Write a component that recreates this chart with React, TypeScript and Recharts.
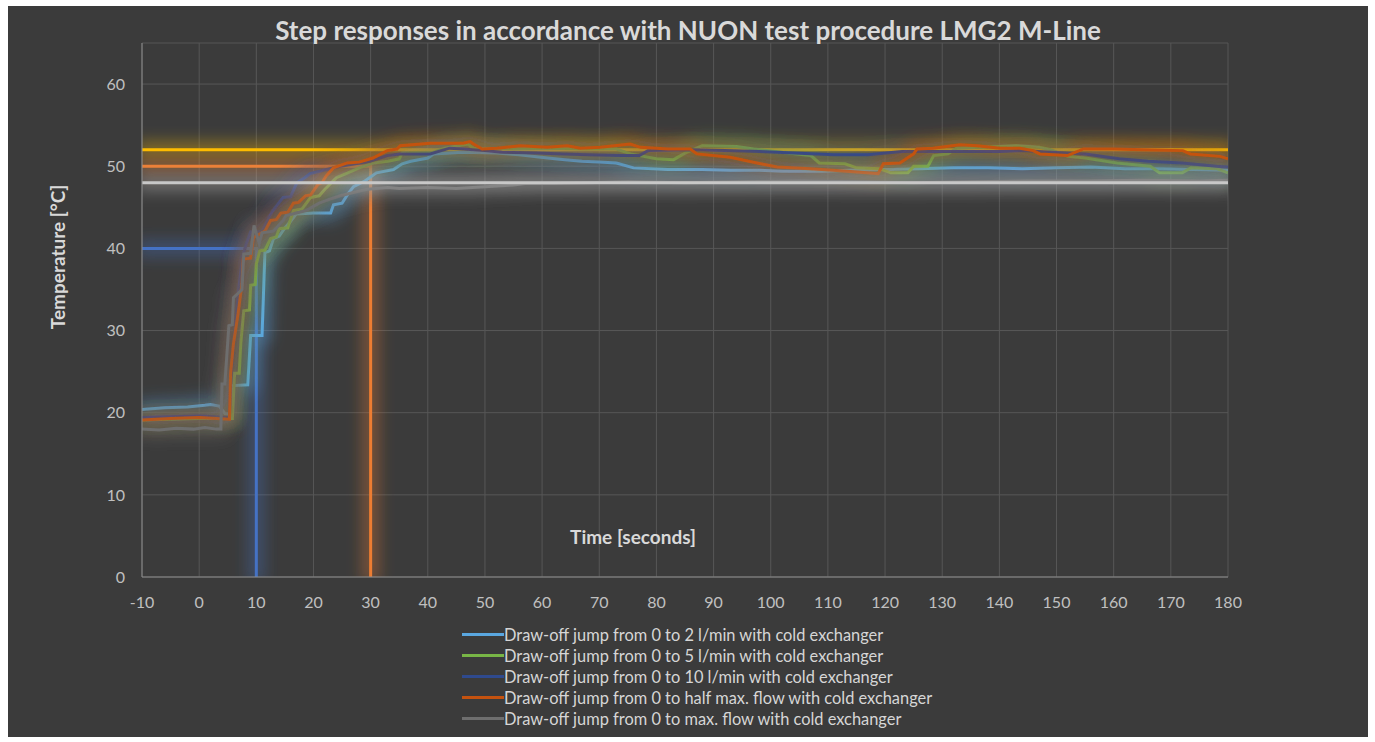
import React from 'react'
import { LineChart, Line, XAxis, YAxis, CartesianGrid, Legend } from 'recharts'

const FONT = 'Lato, "Open Sans", sans-serif'

const TIME_TICKS = [-10, 0, 10, 20, 30, 40, 50, 60, 70, 80, 90, 100, 110, 120, 130, 140, 150, 160, 170, 180]
const TEMP_TICKS = [0, 10, 20, 30, 40, 50, 60]

const SERIES_NAMES = [
  'Draw-off jump from 0 to 2 l/min with cold exchanger',
  'Draw-off jump from 0 to 5 l/min with cold exchanger',
  'Draw-off jump from 0 to 10 l/min with cold exchanger',
  'Draw-off jump from 0 to half max. flow with cold exchanger',
  'Draw-off jump from 0 to max. flow with cold exchanger',
]
const SERIES_COLORS = ['#5aa7e0', '#78b646', '#2f4a8e', '#c4520f', '#6e6e6e']

// [time s, temperature °C]
const FLOW_2: [number, number][] = [
  [-10, 20.4], [-6, 20.6], [-2, 20.7], [1, 20.9], [2, 21.0], [3.5, 20.8], [4.5, 19.9], [5.5, 19.8],
  [6, 23.3], [8.5, 23.4], [9, 29.4], [11, 29.4], [11.5, 39.5], [12.3, 39.7], [13, 41.2], [14, 41.5],
  [15, 42.5], [16, 43.3], [17, 44.2], [20, 44.3], [23, 44.3], [23.5, 45.3], [25, 45.5], [26, 46.6],
  [27, 47.5], [29, 48.2], [31, 49.2], [34, 49.6], [35.5, 50.3], [37, 50.6], [40, 51.0], [41, 51.5],
  [46, 51.7], [52, 51.6], [56, 51.4], [61, 51.0], [64, 50.8], [67, 50.6], [70, 50.5], [73, 50.4],
  [76, 49.8], [82, 49.6], [88, 49.6], [93, 49.5], [98, 49.5], [102, 49.4], [109, 49.4], [114, 49.5],
  [120, 49.6], [126, 49.7], [132, 49.8], [138, 49.8], [144, 49.7], [150, 49.8], [156, 49.9],
  [162, 49.7], [168, 49.7], [174, 49.6], [180, 49.5],
]
const FLOW_5: [number, number][] = [
  [-10, 19.1], [-5, 19.2], [0, 19.3], [3, 19.3], [5.8, 19.3], [6.2, 24.8], [7, 24.8], [7.3, 28.6],
  [7.8, 32.4], [8.8, 32.5], [9, 35.5], [9.8, 35.6], [10, 38.1], [10.6, 39.7], [11.5, 39.8], [12.5, 41.2],
  [13.5, 41.4], [14, 42.4], [15.5, 42.5], [16.5, 44.6], [18, 44.8], [19.5, 46.2], [21, 46.4], [22, 47.2],
  [24, 48.6], [26, 49.2], [28, 49.8], [30.5, 50.4], [33, 50.6], [35, 50.9], [35.5, 51.6], [40.5, 51.6],
  [43, 52.2], [47, 52.7], [48, 52.2], [55, 52.1], [61, 52.2], [67, 52.1], [73, 52.1], [75.5, 51.5],
  [80, 50.9], [83, 50.8], [85, 51.6], [88, 52.5], [94, 52.4], [97, 52.1], [103, 51.6], [107, 51.3],
  [108.5, 50.4], [113, 50.3], [115, 49.8], [119, 49.7], [121, 49.2], [124, 49.2], [125, 50.0],
  [127.5, 50.0], [128.5, 51.3], [131, 51.5], [132.5, 52.2], [137, 52.3], [143, 52.5], [147, 52.3],
  [149, 52.0], [152, 51.2], [155, 51.0], [160.6, 50.4], [166.4, 50.0], [168, 49.2], [172, 49.2],
  [173.5, 49.8], [178, 49.7], [180, 49.2],
]
const FLOW_10: [number, number][] = [
  [-10, 19.4], [-5, 19.5], [0, 19.6], [3, 19.5], [5, 19.4], [5.3, 19.5], [5.5, 24], [6, 28], [6.5, 32],
  [7, 35.5], [7.5, 38.5], [8.2, 40.5], [9, 42], [11, 42.1], [12, 43.5], [12.9, 44.6], [14.7, 46.2],
  [16, 46.3], [17.1, 48], [18.5, 48.6], [19.4, 49.1], [22.9, 49.7], [24.7, 50], [29.9, 50.6],
  [32.9, 51.3], [35.2, 51.5], [40.4, 51.5], [43.8, 52.2], [46.2, 52.1], [50, 51.9], [53, 51.7],
  [59, 51.6], [64, 51.5], [68, 51.4], [74, 51.3], [77, 51.3], [78.5, 51.9], [86, 52.0], [92, 51.9],
  [98, 51.8], [104, 51.6], [111, 51.4], [117, 51.4], [123, 51.8], [128, 51.8], [134, 51.8],
  [140, 51.8], [144, 51.9], [149, 51.7], [155, 51.5], [161, 50.9], [166, 50.6], [172, 50.4],
  [178, 50.0], [180, 49.9],
]
const FLOW_HALF: [number, number][] = [
  [-10, 19.1], [-5, 19.3], [0, 19.4], [3, 19.3], [5.3, 19.2], [5.5, 24.8], [6, 28.4], [6.8, 32],
  [7.5, 35.7], [7.7, 38.7], [9, 38.8], [9.5, 41.3], [11.5, 42.1], [12.5, 43.4], [13.5, 43.5],
  [14.3, 44.3], [15.5, 44.4], [16.5, 45.5], [17.4, 45.6], [18.6, 46.4], [19.5, 46.5], [20.8, 47.8],
  [21.5, 48], [22.2, 48.8], [23.5, 49.8], [25.9, 50.4], [28, 50.5], [30.4, 51], [32.9, 51.9],
  [34.6, 52.1], [35.2, 52.5], [40.4, 52.8], [46.2, 52.8], [47.4, 53.0], [48, 52.7], [49.5, 52.1],
  [52.1, 52.2], [56.2, 52.5], [60.9, 52.3], [64.4, 52.5], [66.7, 52.2], [70.2, 52.3], [75.4, 52.7],
  [77.2, 52.3], [82, 52.1], [85.9, 52.1], [87.1, 51.5], [92.9, 51.1], [97.6, 50.4], [101.1, 49.9],
  [106.9, 49.7], [110.9, 49.5], [115.1, 49.3], [118.8, 49.1], [119.7, 50.3], [122.6, 50.4],
  [123.9, 51.0], [125, 51.5], [125.6, 52.1], [128.4, 52.2], [133.1, 52.6], [136.1, 52.5],
  [140.1, 52.2], [143.6, 52.2], [145.9, 51.9], [147.1, 51.5], [151.9, 51.3], [154.7, 52.1],
  [160, 52.1], [165, 52.0], [172.1, 51.9], [173.4, 51.5], [178.6, 51.2], [180, 50.9],
]
const FLOW_MAX: [number, number][] = [
  [-10, 18.0], [-7, 17.9], [-4, 18.1], [-1, 18.0], [1, 18.2], [3, 18.0], [3.8, 18.0], [4, 23.5],
  [4.5, 23.5], [5.2, 30.6], [5.8, 30.7], [6, 34], [7.5, 35], [7.8, 39.3], [9, 39.4], [9.6, 42.8],
  [10.5, 40.6], [11, 41.9], [13, 42.1], [14.7, 43.4], [15.2, 44], [18.7, 44.6], [21, 45.5], [22.9, 46],
  [24.7, 46.4], [27, 46.8], [29.4, 47.2], [33, 47.4], [35, 47.3], [40, 47.4], [45, 47.3], [50, 47.5],
  [55, 47.7], [57, 47.9], [62, 47.9], [68, 48.0], [75, 48.1], [85, 48.0], [95, 48.1], [105, 48.2],
  [115, 48.1], [125, 48.0], [135, 48.1], [145, 48.2], [155, 48.2], [165, 48.3], [175, 48.2], [180, 48.3],
]

// target lines
const LIMIT_52: [number, number][] = [[-10, 52], [180, 52]]
const LIMIT_50: [number, number][] = [[-10, 50], [30, 50], [30, 0]]
const LIMIT_48: [number, number][] = [[-10, 48], [180, 48]]
const LIMIT_40: [number, number][] = [[-10, 40], [10, 40], [10, 0]]

const toRows = (pts: [number, number][]) => pts.map(([t, v]) => ({ t, v }))

const SERIES = [FLOW_2, FLOW_5, FLOW_10, FLOW_HALF, FLOW_MAX].map((pts, i) => ({
  name: SERIES_NAMES[i],
  color: SERIES_COLORS[i],
  data: toRows(pts),
}))

const LegendBox = () => (
  <div style={{ fontFamily: FONT, fontSize: 16.4, color: '#d6d6d6' }}>
    {SERIES.map(s => (
      <div key={s.name} style={{ display: 'flex', alignItems: 'center', height: 21, whiteSpace: 'nowrap' }}>
        <span style={{ display: 'inline-block', width: 42, height: 3, background: s.color }} />
        <span>{s.name}</span>
      </div>
    ))}
  </div>
)

const lineProps = {
  type: 'linear' as const,
  dataKey: 'v',
  dot: false,
  activeDot: false,
  strokeWidth: 3,
  isAnimationActive: false,
  legendType: 'none' as const,
  filter: 'url(#glow)',
}

export default function App() {
  return (
    <div style={{ position: 'absolute', left: 8, top: 6, width: 1360, height: 731, background: '#3b3b3b' }}>
      <svg width={0} height={0} style={{ position: 'absolute' }}>
        <defs>
          <filter id="glow" filterUnits="userSpaceOnUse" x="0" y="0" width="1400" height="800">
            <feMorphology in="SourceGraphic" operator="dilate" radius="6" result="wide" />
            <feGaussianBlur in="wide" stdDeviation="8" result="blur" />
            <feComponentTransfer in="blur" result="soft">
              <feFuncA type="linear" slope="0.42" />
            </feComponentTransfer>
            <feMerge>
              <feMergeNode in="soft" />
              <feMergeNode in="SourceGraphic" />
            </feMerge>
          </filter>
        </defs>
      </svg>
      <div style={{
        position: 'absolute', top: 9, left: 0, width: 1360, textAlign: 'center', lineHeight: '30px',
        fontFamily: FONT, fontWeight: 700, fontSize: 26, color: '#d9d9d9', zIndex: 1,
      }}>
        Step responses in accordance with NUON test procedure LMG2 M-Line
      </div>
      <LineChart width={1360} height={731} margin={{ top: 37, right: 140, bottom: 8, left: 0 }}>
        <CartesianGrid stroke="#575757" strokeWidth={1} />
        <XAxis
          type="number"
          dataKey="t"
          domain={[-10, 180]}
          ticks={TIME_TICKS}
          allowDataOverflow
          height={47}
          tickLine={false}
          tickMargin={14}
          stroke="#8c8c8c"
          tick={{ fill: '#c0c0c0', fontSize: 16, fontFamily: FONT }}
          label={{
            content: () => (
              <text x={625} y={530} textAnchor="middle" dominantBaseline="central"
                fontFamily={FONT} fontWeight={700} fontSize={19} fill="#d9d9d9">
                Time [seconds]
              </text>
            ),
          }}
        />
        <YAxis
          type="number"
          domain={[0, 65]}
          ticks={TEMP_TICKS}
          allowDataOverflow
          width={134}
          tickLine={false}
          tickMargin={11}
          stroke="#8c8c8c"
          tick={{ fill: '#c0c0c0', fontSize: 16, fontFamily: FONT }}
          label={{
            content: () => (
              <text x={49} y={251} textAnchor="middle" dominantBaseline="central" transform="rotate(-90 49 251)"
                fontFamily={FONT} fontWeight={700} fontSize={19} fill="#d9d9d9">
                Temperature [°C]
              </text>
            ),
          }}
        />
        <Legend
          layout="vertical"
          verticalAlign="bottom"
          align="center"
          content={() => <LegendBox />}
          wrapperStyle={{ left: 454, width: 520 }}
        />
        <Line {...lineProps} data={toRows(LIMIT_52)} stroke="#ffc000" name="limit52" />
        <Line {...lineProps} data={toRows(LIMIT_50)} stroke="#ed7d31" name="limit50" />
        <Line {...lineProps} data={toRows(LIMIT_40)} stroke="#4472c4" name="limit40" />
        {SERIES.map(s => (
          <Line key={s.name} {...lineProps} data={s.data} stroke={s.color} name={s.name} />
        ))}
        <Line {...lineProps} data={toRows(LIMIT_48)} stroke="#c8c8c8" name="limit48" />
      </LineChart>
    </div>
  )
}
